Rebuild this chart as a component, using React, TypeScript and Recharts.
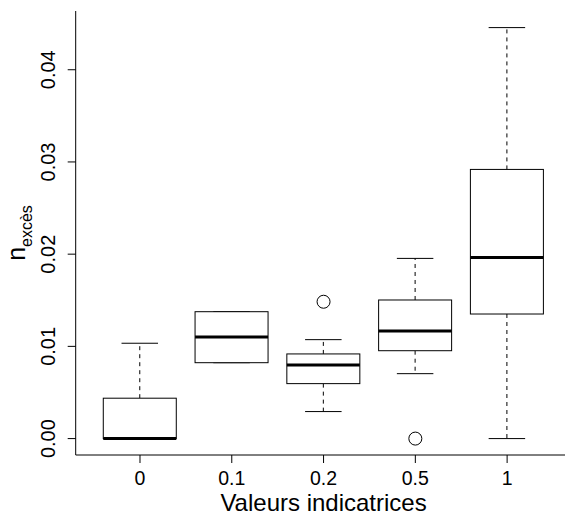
import React from "react";
import { ComposedChart, Bar, Scatter, XAxis, YAxis } from "recharts";

const categories = ["0", "0.1", "0.2", "0.5", "1"];
const whiskerLow = [0, 0.00823, 0.00293, 0.00704, 0];
const q1 = [0, 0.00823, 0.00596, 0.00953, 0.01351];
const median = [0, 0.01102, 0.00798, 0.01167, 0.01965];
const q3 = [0.00438, 0.01376, 0.00918, 0.01503, 0.02919];
const whiskerHigh = [0.01034, 0.01376, 0.01073, 0.01954, 0.04457];
const outliers: (number | null)[] = [null, null, 0.01484, 0, null];
const yTicks = [0, 0.01, 0.02, 0.03, 0.04];
const yDomain: [number, number] = [-0.00178, 0.04637];

const data = categories.map((cat, i) => ({
  cat,
  lo: whiskerLow[i],
  q1: q1[i],
  med: median[i],
  q3: q3[i],
  hi: whiskerHigh[i],
  out: outliers[i],
}));

const FONT = "'Liberation Sans', Arial, Helvetica, sans-serif";

const BoxShape = (props: any) => {
  const { x, y, width, height, payload } = props;
  if (x == null || y == null || !payload) return null;
  const top = Math.min(y, y + height);
  const bottom = Math.max(y, y + height);
  const ppu = (bottom - top) / (payload.hi - payload.lo);
  const py = (v: number) => top + (payload.hi - v) * ppu;
  const cx = x + width / 2;
  const capHalf = width / 4;
  const yq1 = py(payload.q1);
  const yq3 = py(payload.q3);
  const ymed = py(payload.med);
  const ylo = py(payload.lo);
  const yhi = py(payload.hi);
  return (
    <g>
      <line x1={cx} x2={cx} y1={yq3} y2={yhi} stroke="#000" strokeWidth={1} strokeDasharray="4 4" />
      <line x1={cx} x2={cx} y1={yq1} y2={ylo} stroke="#000" strokeWidth={1} strokeDasharray="4 4" />
      <line x1={cx - capHalf} x2={cx + capHalf} y1={yhi} y2={yhi} stroke="#000" strokeWidth={1} />
      <line x1={cx - capHalf} x2={cx + capHalf} y1={ylo} y2={ylo} stroke="#000" strokeWidth={1} />
      <rect x={x} y={yq3} width={width} height={yq1 - yq3} fill="#fff" stroke="#000" strokeWidth={1} />
      <line x1={x} x2={x + width} y1={ymed} y2={ymed} stroke="#000" strokeWidth={3} />
    </g>
  );
};

const OutlierShape = (props: any) => {
  const { cx, cy, payload } = props;
  if (!payload || payload.out == null || cx == null || cy == null || isNaN(cy)) return null;
  return <circle cx={cx} cy={cy} r={6.5} fill="none" stroke="#000" strokeWidth={1} />;
};

const XTick = (props: any) => {
  const { x, y, payload } = props;
  return (
    <text x={x} y={y + 21.5} textAnchor="middle" fontSize={19.5} fontFamily={FONT} fill="#000">
      {payload.value}
    </text>
  );
};

const YTick = (props: any) => {
  const { x, y, payload } = props;
  const bx = x - 13;
  return (
    <text
      x={bx}
      y={y}
      transform={`rotate(-90, ${bx}, ${y})`}
      textAnchor="middle"
      fontSize={20}
      fontFamily={FONT}
      fill="#000"
    >
      {Number(payload.value).toFixed(2)}
    </text>
  );
};

const XTitle = (props: any) => {
  const vb = props.viewBox || {};
  const cx = (vb.x ?? 0) + (vb.width ?? 0) / 2;
  const by = (vb.y ?? 0) + 55.8;
  return (
    <text x={cx} y={by} textAnchor="middle" fontSize={24} fontFamily={FONT} fill="#000">
      Valeurs indicatrices
    </text>
  );
};

const YTitle = (props: any) => {
  const vb = props.viewBox || {};
  const cy = (vb.y ?? 0) + (vb.height ?? 0) / 2;
  const bx = 25;
  return (
    <text
      transform={`translate(${bx}, ${cy}) rotate(-90)`}
      x={0}
      y={0}
      textAnchor="middle"
      fontSize={25}
      fontFamily={FONT}
      fill="#000"
    >
      n
      <tspan dy={7} fontSize={16}>
        excès
      </tspan>
    </text>
  );
};

export default function App() {
  return (
    <div style={{ position: "absolute", left: 0, top: 0, width: 565, height: 516, overflow: "hidden", background: "#fff" }}>
      <ComposedChart
        width={580}
        height={516}
        data={data}
        margin={{ top: 11, right: 8.6, bottom: 0, left: 0 }}
        barCategoryGap="10%"
      >
        <XAxis
          dataKey="cat"
          type="category"
          height={61}
          padding={{ left: 18.4, right: 18.4 }}
          tickSize={8}
          tickMargin={0}
          tick={<XTick />}
          axisLine={{ stroke: "#000" }}
          tickLine={{ stroke: "#000" }}
          label={<XTitle />}
          interval={0}
          allowDuplicatedCategory={false}
        />
        <XAxis
          xAxisId="top"
          dataKey="cat"
          orientation="top"
          height={0}
          tick={false}
          tickLine={false}
          axisLine={{ stroke: "#000" }}
        />
        <YAxis
          type="number"
          width={75.7}
          domain={yDomain}
          ticks={yTicks}
          allowDataOverflow
          tickSize={8}
          tickMargin={0}
          tick={<YTick />}
          axisLine={{ stroke: "#000" }}
          tickLine={{ stroke: "#000" }}
          label={<YTitle />}
        />
        <Bar
          dataKey={(d: any) => [d.lo, d.hi]}
          shape={<BoxShape />}
          isAnimationActive={false}
        />
        <Scatter dataKey="out" shape={<OutlierShape />} isAnimationActive={false} />
      </ComposedChart>
    </div>
  );
}
